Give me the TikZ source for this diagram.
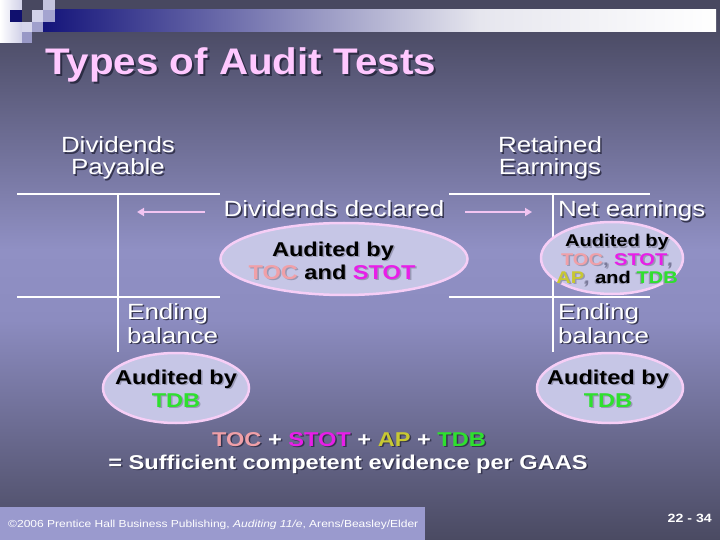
\documentclass[tikz,border=0pt]{standalone}
\usepackage{fontspec}
\setmainfont{Liberation Sans}[FakeStretch=1.18]
\newfontfamily\titlefont{Liberation Sans}[FakeStretch=1.09]
\usetikzlibrary{arrows.meta,shapes.geometric}
\definecolor{bgtop}{HTML}{484860}
\definecolor{bga}{HTML}{4C4C66}
\definecolor{bgb}{HTML}{9090C4}
\definecolor{bgc}{HTML}{8C8CC0}
\definecolor{bgd}{HTML}{4A4A62}
\definecolor{navy}{HTML}{14147A}
\definecolor{barmid}{HTML}{E6E6EE}
\definecolor{sqlight}{HTML}{D0D0E8}
\definecolor{sqnavy}{HTML}{10106E}
\definecolor{sqa}{HTML}{C4C4DE}
\definecolor{sqb}{HTML}{D2D2EA}
\definecolor{sqc}{HTML}{A4A4D0}
\definecolor{sqd}{HTML}{D6D6EC}
\definecolor{sqe}{HTML}{A0A0CC}
\definecolor{sqf}{HTML}{9898C6}
\definecolor{titlepink}{HTML}{FFC8FF}
\definecolor{tocc}{HTML}{F0A0A8}
\definecolor{stotc}{HTML}{E81EE8}
\definecolor{apc}{HTML}{C8C832}
\definecolor{tdbc}{HTML}{2EE02E}
\definecolor{commac}{HTML}{7A7A9A}
\definecolor{ellfill}{HTML}{C6C6E6}
\definecolor{elldraw}{HTML}{F6CEF6}
\definecolor{arrowc}{HTML}{F2C4F2}
\definecolor{footc}{HTML}{9A9ACE}
\definecolor{shd}{HTML}{35354F}
\definecolor{tshd}{HTML}{2C2C44}
\definecolor{eshd}{HTML}{9898B4}
\newif\ifinsh
\newcommand\kc[2]{\ifinsh#2\else\textcolor{#1}{#2}\fi}
\newcommand\shoff{1.5pt}
\newcommand\sh[2][shd]{\makebox[0pt][l]{\inshtrue\raisebox{-\shoff}[0pt][0pt]{\kern\shoff\color{#1}#2}}#2}
\tikzset{
  wt/.style={text=white, inner sep=0pt, font=\fontsize{22}{26}\selectfont},
  et/.style={text=black, inner sep=0pt, font=\bfseries\fontsize{20}{24}\selectfont},
  est/.style={text=black, inner sep=0pt, font=\bfseries\fontsize{17}{20}\selectfont},
  bt/.style={text=white, inner sep=0pt, font=\bfseries\fontsize{20}{24}\selectfont},
  ell/.style={shape=ellipse, fill=ellfill, draw=elldraw, line width=2.5pt, inner sep=0pt},
  tline/.style={draw=white, line width=2.5pt},
  arr/.style={draw=arrowc, line width=2.5pt, -{Triangle[length=7pt,width=8pt]}},
}
\begin{document}
\begin{tikzpicture}[x=1pt,y=-1pt]
\useasboundingbox (0,0) rectangle (720,540);
% background
\fill[bgtop] (0,0) rectangle (720,10);
\shade[top color=bgtop, bottom color=bga] (0,10) rectangle (720,32);
\shade[top color=bga, bottom color=bgb] (0,32) rectangle (720,250);
\shade[top color=bgb, bottom color=bgc] (0,250) rectangle (720,320);
\shade[top color=bgc, bottom color=bgd] (0,320) rectangle (720,540);
% top bar
\shade[left color=navy, right color=barmid] (43,10) rectangle (480,32);
\shade[left color=barmid, right color=white] (480,10) rectangle (716,32);
% corner squares
\shade[left color=white, right color=sqlight] (0,0) rectangle (22,43);
\fill[bgtop] (22,0) rectangle (43,22);
\fill[sqnavy] (10,10) rectangle (22,22);
\fill[sqa] (43,0) rectangle (55,10);
\fill[sqb] (32,10) rectangle (43,22);
\fill[sqc] (43,10) rectangle (55,22);
\fill[sqd] (22,22) rectangle (32,32);
\fill[sqe] (32,22) rectangle (43,32);
\fill[sqf] (22,32) rectangle (32,43);
% footer box
\fill[footc] (0,507) rectangle (425,540);
% title
\node[anchor=base west, inner sep=0pt, text=titlepink, font=\titlefont\bfseries\fontsize{37}{40}\selectfont] (title) at (45,75) {\renewcommand\shoff{2pt}\sh[tshd]{Types of Audit Tests}};
% account headings
\node[wt, anchor=base] (dp1) at (118,153) {\sh{Dividends}};
\node[wt, anchor=base] (dp2) at (118,175) {\sh{Payable}};
\node[wt, anchor=base] (re1) at (550,153) {\sh{Retained}};
\node[wt, anchor=base] (re2) at (550,175) {\sh{Earnings}};
% T accounts
\coordinate (lt1) at (17,194); \coordinate (lt2) at (220,194);
\coordinate (lt3) at (17,297); \coordinate (lt4) at (220,297);
\coordinate (lv1) at (118,194); \coordinate (lv2) at (118,352);
\coordinate (rt1) at (449,194); \coordinate (rt2) at (650,194);
\coordinate (rt3) at (449,297); \coordinate (rt4) at (650,297);
\coordinate (rv1) at (553,194); \coordinate (rv2) at (553,352);
\draw[tline] (lt1) -- (lt2);
\draw[tline] (lt3) -- (lt4);
\draw[tline] (lv1) -- (lv2);
\draw[tline] (rt1) -- (rt2);
\draw[tline] (rt3) -- (rt4);
\draw[tline] (rv1) -- (rv2);
% middle label and arrows
\node[wt, anchor=base] (dd) at (334,217) {\sh{Dividends declared}};
\node[wt, anchor=base west] (ne) at (558,217) {\sh{Net earnings}};
\coordinate (la1) at (205,212); \coordinate (la2) at (137,212);
\coordinate (ra1) at (465,212); \coordinate (ra2) at (532,212);
\draw[arr] (la1) -- (la2);
\draw[arr] (ra1) -- (ra2);
% ellipses
\node[ell, minimum width=247pt, minimum height=72pt] (e1) at (344,259) {};
\node[et, anchor=base] (e1a) at (333,256) {\sh[eshd]{Audited by}};
\node[et, anchor=base] (e1b) at (332,279) {\sh[eshd]{\kc{tocc}{TOC} and \kc{stotc}{STOT}}};
\node[ell, minimum width=142pt, minimum height=72pt] (e2) at (612,258) {};
\node[est, anchor=base] (e2a) at (617,247) {\sh[eshd]{Audited by}};
\node[est, anchor=base] (e2b) at (617,265) {\sh[eshd]{\kc{tocc}{TOC}\kc{commac}{,} \kc{stotc}{STOT}\kc{commac}{,}}};
\node[est, anchor=base] (e2c) at (617,283) {\sh[eshd]{\kc{apc}{AP}\kc{commac}{,} and \kc{tdbc}{TDB}}};
% ending balances
\node[wt, anchor=base west] (eb1) at (127,319) {\sh{Ending}};
\node[wt, anchor=base west] (eb2) at (127,343) {\sh{balance}};
\node[wt, anchor=base west] (eb3) at (558,319) {\sh{Ending}};
\node[wt, anchor=base west] (eb4) at (558,343) {\sh{balance}};
\node[ell, minimum width=146pt, minimum height=70pt] (e3) at (176,388) {};
\node[et, anchor=base] (e3a) at (176,384) {\sh[eshd]{Audited by}};
\node[et, anchor=base] (e3b) at (176,407) {\sh[eshd]{\kc{tdbc}{TDB}}};
\node[ell, minimum width=146pt, minimum height=70pt] (e4) at (610,388) {};
\node[et, anchor=base] (e4a) at (608,384) {\sh[eshd]{Audited by}};
\node[et, anchor=base] (e4b) at (608,407) {\sh[eshd]{\kc{tdbc}{TDB}}};
% conclusion
\node[bt, anchor=base] (c1) at (349,446) {\sh{\kc{tocc}{TOC} + \kc{stotc}{STOT} + \kc{apc}{AP} + \kc{tdbc}{TDB}}};
\node[bt, anchor=base] (c2) at (348,469) {\sh{= Sufficient competent evidence per GAAS}};
% footer
\node[anchor=base west, inner sep=0pt, text=white, font=\fontsize{10.2}{12}\selectfont] (foot) at (8,527) {\textcopyright2006 Prentice Hall Business Publishing, \textit{Auditing 11/e}, Arens/Beasley/Elder};
\node[anchor=base east, inner sep=0pt, text=white, font=\bfseries\fontsize{12}{14}\selectfont] (pg) at (712,522) {22 - 34};
\end{tikzpicture}
\end{document}
